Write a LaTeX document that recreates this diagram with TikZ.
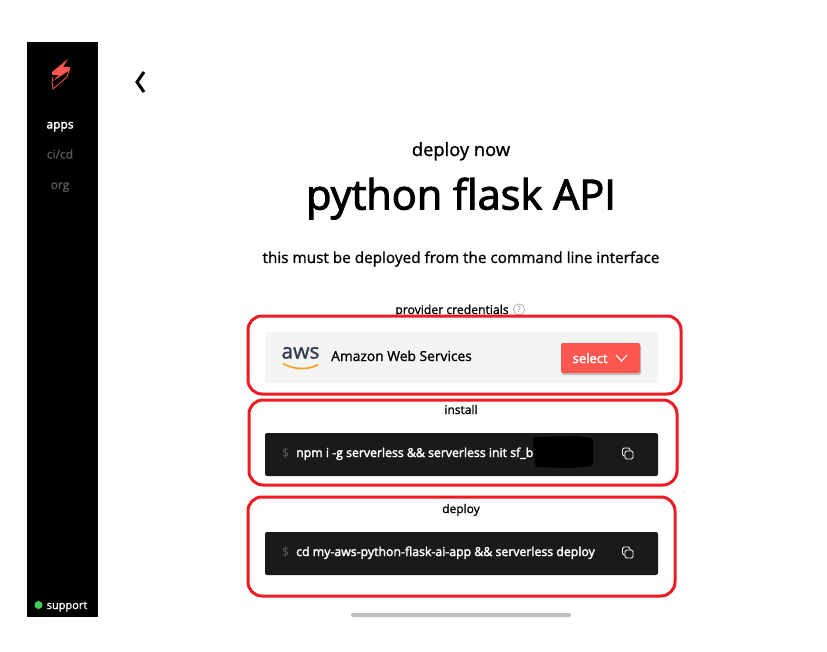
\documentclass[tikz,border=0pt]{standalone}
\usepackage{fontspec}
\setmainfont{Open Sans}
\newfontfamily\medf[FakeBold=1.2]{Open Sans}
\newfontfamily\semf[FakeBold=2.4]{Open Sans}
\definecolor{redbox}{HTML}{ED1C24}
\definecolor{coral}{HTML}{FD5750}
\definecolor{panel}{HTML}{F4F4F4}
\definecolor{term}{HTML}{1A1A1A}
\definecolor{dimtxt}{HTML}{5A5A5A}
\definecolor{awsink}{HTML}{2F3B4C}
\definecolor{awsorange}{HTML}{F79C1C}
\definecolor{statusgreen}{HTML}{3FD05A}
\newcommand{\fs}[1]{\fontsize{#1}{#1}\selectfont}
\tikzset{
  x=1pt,y=-1pt,
  hl/.style={draw=redbox,line width=3pt,rounded corners=14pt},
  lbl/.style={inner sep=0pt,anchor=base,text=black},
  nav/.style={inner sep=0pt,anchor=base},
  cmd/.style={inner sep=0pt,anchor=base west,text=white,font=\fs{12.3}\semf},
  dollar/.style={inner sep=0pt,anchor=base west,text=dimtxt,font=\fs{12.4}},
  copyicon/.style={draw=white,line width=0.9pt,rounded corners=1.5pt},
}
\begin{document}
\begin{tikzpicture}
\useasboundingbox (0,0) rectangle (827,652);
\fill[white] (0,0) rectangle (827,652);
% sidebar
\fill[black] (27,42) rectangle (98,617);
\fill[coral] (68,59) -- (52,72) -- (52,75) -- (59,75) -- (53,81) -- (70,70) -- (70,67) -- (63,67) -- cycle;
\draw[coral,line width=0.8pt] (53,77) -- (52,82) -- (53,89) -- (67,77) -- (69,71);
\node[nav,text=white,font=\fs{12}\semf] (apps) at (60,128.5) {apps};
\node[nav,text=dimtxt,font=\fs{12}\medf] (cicd) at (60,158.5) {ci/cd};
\node[nav,text=dimtxt,font=\fs{12}\medf] (org) at (60,189) {org};
\fill[statusgreen] (38.5,605) circle (4);
\node[nav,text=white,font=\fs{11}\medf] (support) at (67,609) {support};
% back chevron
\draw[black,line width=3pt,line join=miter] (144,72) -- (137,82) -- (144,92);
% headings
\node[lbl,font=\fs{18.3}\medf] (deploynow) at (461,156) {deploy now};
\node[lbl,font=\fs{41.5}\semf] (title) at (461,209.5) {python flask API};
\node[lbl,font=\fs{15.3}\medf] (sub) at (461,263) {this must be deployed from the command line interface};
\node[lbl,font=\fs{12.2}\medf] (prov) at (452,314) {provider credentials};
\node[draw=gray!70,line width=0.7pt,circle,inner sep=0pt,minimum size=11pt,text=gray,font=\fs{8}] (help) at (519,309.5) {?};
% provider panel
\fill[panel,rounded corners=2pt] (265,332) rectangle (658,383);
\node[inner sep=0pt,anchor=base,text=awsink,font=\fs{21}\medf] (aws) at (300.5,358.5) {aws};
\draw[awsorange,line width=1.6pt] (283,363.5) .. controls (293,370) and (310,370) .. (318,364.5);
\node[inner sep=0pt,anchor=base west,text=black,font=\fs{13.8}\medf] (amazon) at (331,361) {Amazon Web Services};
\fill[black!25,rounded corners=2pt] (562,345) rectangle (641,375);
\fill[coral,rounded corners=2pt] (561,343) rectangle (640,373);
\node[inner sep=0pt,anchor=base west,text=white,font=\fs{13}\semf] (select) at (572.5,363) {select};
\draw[white,line width=1.1pt] (616,355) -- (621.5,361) -- (627,355);
% install
\node[lbl,font=\fs{12}\medf] (install) at (461,414) {install};
\fill[term,rounded corners=2pt] (265,433) rectangle (658,476);
\node[dollar] (d1) at (282,457) {\$};
\node[cmd] (c1) at (296,457) {npm i -g serverless \&\& serverless init sf\_b};
\fill[black,rounded corners=3pt] (533,437) -- (575,436) -- (593,438) -- (593,466) -- (570,468) -- (535,467) -- cycle;
\draw[copyicon] (625,451) rectangle (633,459);
\draw[white,line width=0.9pt,rounded corners=1.5pt] (625,456) -- (622.5,456) -- (622.5,448) -- (630,448) -- (630,451);
% deploy
\node[lbl,font=\fs{12}\medf] (deploy) at (461,513) {deploy};
\fill[term,rounded corners=2pt] (265,532) rectangle (658,575);
\node[dollar] (d2) at (282,556) {\$};
\node[cmd] (c2) at (296,556) {cd my-aws-python-flask-ai-app \&\& serverless deploy};
\draw[copyicon] (625,550) rectangle (633,558);
\draw[white,line width=0.9pt,rounded corners=1.5pt] (625,555) -- (622.5,555) -- (622.5,547) -- (630,547) -- (630,550);
% scrollbar
\fill[black!25,rounded corners=1.5pt] (351,613) rectangle (571,617);
% highlight boxes
\draw[hl] (248,316) rectangle (681,394);
\draw[hl] (249,400) rectangle (677,485);
\draw[hl] (248,497) rectangle (675,596);
\end{tikzpicture}
\end{document}
